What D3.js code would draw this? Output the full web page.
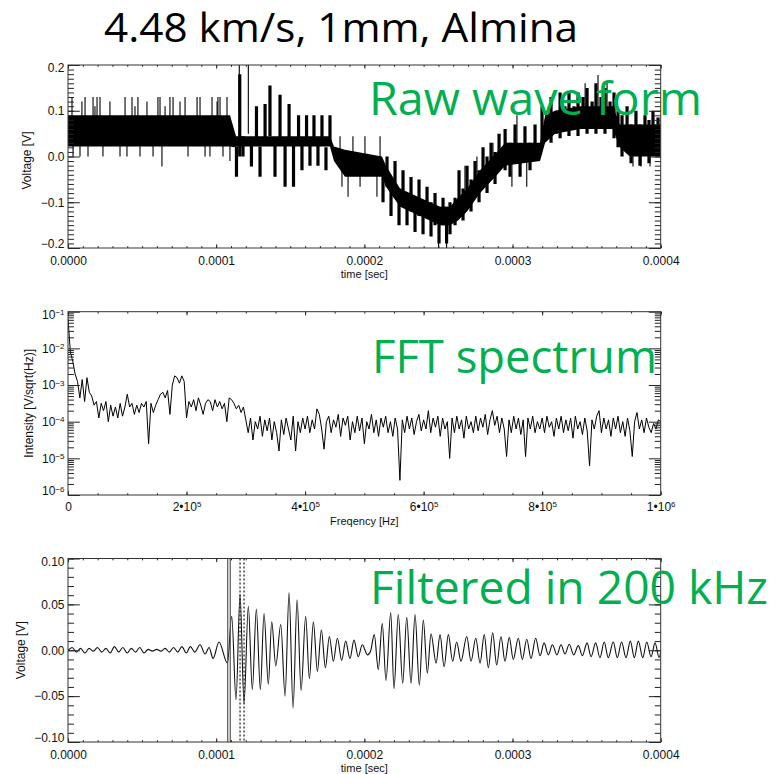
<!DOCTYPE html>
<html>
<head>
<meta charset="utf-8">
<script src="https://cdn.jsdelivr.net/npm/d3@7"></script>
<style>body{margin:0;background:#fff}</style>
</head>
<body>
<div id="chart"></div>
<script>
// ---------- data (times in microseconds) ----------
var timeTicks = [0, 0.0001, 0.0002, 0.0003, 0.0004];
var rawVoltTicks = [-0.2, -0.1, 0, 0.1, 0.2];
var filtVoltTicks = [-0.1, -0.05, 0, 0.05, 0.1];
var freqTicks = [0, 2e5, 4e5, 6e5, 8e5, 1e6];
var intensityTicks = [1e-6, 1e-5, 1e-4, 1e-3, 1e-2, 1e-1];

// raw wave form: core band envelope
var rawBandT  = [0, 109.3, 112.0, 113.4, 176.8, 179.5, 186.9, 211.9, 214.6, 224.1, 237.6, 251.1, 257.8, 263.2, 269.3, 278.1, 289.6, 295.0, 318.6, 322.0, 328.7, 345.6, 367.8, 372.3, 379.1, 400];
var rawBandLo = [0.022, 0.022, 0.020, 0.022, 0.022, -0.010, -0.044, -0.044, -0.066, -0.110, -0.130, -0.150, -0.150, -0.140, -0.120, -0.080, -0.040, -0.020, -0.010, 0.030, 0.050, 0.060, 0.060, 0.020, 0.000, 0.000];
var rawBandHi = [0.090, 0.090, 0.060, 0.044, 0.044, 0.022, 0.015, 0.000, -0.020, -0.070, -0.090, -0.110, -0.110, -0.090, -0.070, -0.030, 0.010, 0.030, 0.030, 0.090, 0.100, 0.110, 0.110, 0.070, 0.070, 0.070];

// raw wave form: thick oscillation bars
var rawBarT = [113.7, 115.9, 118.1, 123.8, 127.2, 129.6, 133.0, 136.3, 139.7, 143.1, 146.5, 149.2, 152.2, 155.6, 157.9, 161.0, 163.3, 166.0, 168.7, 171.4, 174.1, 176.8,
  212.6, 215.3, 218.0, 220.7, 223.4, 226.1, 228.8, 231.5, 234.2, 236.9, 239.6, 242.3, 245.0, 247.7, 250.4, 253.1, 255.5, 257.8,
  261.2, 263.9, 266.6, 269.3, 272.0, 274.7, 277.4, 280.1, 282.8, 285.5, 288.2, 290.9,
  295.0, 298.3, 301.7, 305.1, 308.4, 311.8, 315.2,
  319.9, 323.3, 326.0, 329.4, 332.1, 335.4, 338.1, 341.5, 344.2, 347.6, 350.3, 353.7, 356.3, 359.7, 362.4, 365.8, 368.5,
  371.2, 373.9, 377.3, 380.0, 383.3, 386.0, 389.4, 392.1, 394.8, 398.2];
var rawBarLo = [-0.044, 0.0, 0.0, -0.022, 0.03, -0.044, 0.03, 0.044, -0.044, 0.03, -0.066, 0.03, -0.066, 0.03, -0.03, 0.03, -0.02, 0.03, -0.02, 0.03, -0.03, 0.03,
  -0.10, -0.066, -0.13, -0.09, -0.15, -0.11, -0.15, -0.12, -0.165, -0.13, -0.17, -0.13, -0.175, -0.15, -0.19, -0.15, -0.19, -0.17,
  -0.15, -0.10, -0.14, -0.09, -0.12, -0.07, -0.10, -0.05, -0.08, -0.03, -0.06, -0.02,
  -0.03, -0.044, 0.0, -0.044, 0.0, -0.03, 0.01,
  0.02, 0.04, 0.03, 0.05, 0.04, 0.06, 0.045, 0.06, 0.045, 0.06, 0.05, 0.07, 0.05, 0.06, 0.05, 0.06, 0.04,
  0.02, 0.0, 0.02, -0.015, 0.02, -0.02, 0.02, -0.015, 0.01, 0.0];
var rawBarHi = [0.022, 0.18, 0.044, 0.03, 0.11, 0.022, 0.115, 0.155, 0.04, 0.135, 0.04, 0.115, 0.035, 0.09, 0.03, 0.09, 0.03, 0.09, 0.03, 0.09, 0.02, 0.09,
  -0.02, 0.0, -0.05, -0.01, -0.07, -0.03, -0.08, -0.045, -0.09, -0.05, -0.10, -0.066, -0.10, -0.08, -0.11, -0.09, -0.11, -0.10,
  -0.09, -0.03, -0.07, -0.02, -0.05, -0.01, -0.03, 0.02, 0.0, 0.03, 0.01, 0.05,
  0.06, 0.03, 0.07, 0.02, 0.066, 0.03, 0.07,
  0.11, 0.09, 0.13, 0.10, 0.14, 0.11, 0.14, 0.11, 0.14, 0.13, 0.15, 0.12, 0.16, 0.13, 0.15, 0.12, 0.14,
  0.10, 0.09, 0.11, 0.07, 0.10, 0.07, 0.09, 0.08, 0.10, 0.085];

// raw wave form: thin spikes
var rawSpikeT = [2.7, 9.4, 11.5, 16.9, 18.2, 19.6, 21.6, 28.3, 38.5, 43.2, 45.2, 47.2, 53.3, 60.7, 62.1, 65.5, 68.8, 70.9, 75.6, 79.0, 87.1, 89.1, 97.2, 100.6, 101.2, 102.6, 107.3,
  3.4, 8.1, 13.5, 23.6, 35.1, 39.8, 48.6, 57.4, 63.4, 81.0, 92.5, 95.8, 104.6, 109.3,
  115.6, 121.7,
  184.9, 189.0, 197.1, 208.5, 183.6, 192.3, 200.4, 210.6,
  250.1, 255.5,
  267.9, 276.0, 286.8, 299.6, 303.0, 309.6,
  349.0, 357.7, 363.8,
  381.3, 386.7, 392.8];
var rawSpikeLo = [0.06, 0.06, 0.06, 0.06, 0.06, 0.06, 0.06, 0.06, 0.06, 0.06, 0.06, 0.06, 0.06, 0.06, 0.06, 0.06, 0.06, 0.06, 0.06, 0.06, 0.06, 0.06, 0.06, 0.06, 0.06, 0.06, 0.06,
  0.0, 0.0, 0.0, 0.0, 0.0, 0.0, 0.0, 0.0, -0.022, 0.0, 0.0, 0.0, 0.0, -0.01,
  0.1, 0.05,
  -0.066, -0.088, -0.066, -0.088, -0.02, -0.02, -0.02, -0.02,
  -0.2, -0.21,
  -0.10, -0.06, -0.04, -0.066, 0.0, -0.066,
  0.1, 0.1, 0.1,
  -0.022, -0.022, -0.022];
var rawSpikeHi = [0.13, 0.12, 0.13, 0.13, 0.11, 0.13, 0.13, 0.12, 0.13, 0.13, 0.11, 0.13, 0.12, 0.13, 0.13, 0.11, 0.13, 0.13, 0.12, 0.13, 0.13, 0.13, 0.13, 0.12, 0.13, 0.13, 0.13,
  0.04, 0.04, 0.04, 0.04, 0.04, 0.04, 0.04, 0.04, 0.04, 0.04, 0.04, 0.04, 0.04, 0.04,
  0.21, 0.21,
  -0.02, -0.02, -0.02, -0.02, 0.044, 0.044, 0.044, 0.044,
  -0.15, -0.15,
  -0.02, 0.0, 0.03, 0.0, 0.09, 0.0,
  0.16, 0.178, 0.165,
  0.03, 0.03, 0.03];

// FFT spectrum: log10 intensity every 4 kHz from 0 to 1 MHz
var fftStep = 4000;
var fftLog = [
  -1.2, -2.1, -2.35, -2.7, -2.9, -3.35, -2.85, -3.45, -2.8, -3.2,
  -3.3, -3.55, -3.45, -3.9, -3.5, -3.7, -3.45, -4.0, -3.55, -3.85,
  -3.6, -3.9, -3.5, -3.85, -3.6, -3.25, -3.6, -3.5, -3.8, -3.55,
  -3.75, -3.5, -3.6, -3.45, -4.6, -3.5, -3.75, -3.55, -3.4, -3.25,
  -3.2, -3.35, -3.15, -3.8, -3.0, -2.75, -2.8, -2.95, -2.75, -2.9,
  -3.9, -3.45, -3.6, -3.4, -3.7, -3.35, -3.55, -3.8, -3.5, -3.4,
  -3.45, -3.7, -3.4, -3.6, -3.45, -3.65, -3.5, -4.0, -3.35, -3.4,
  -3.5, -3.65, -3.55, -3.75, -3.6, -3.95, -4.3, -3.9, -4.5, -4.0,
  -4.2, -3.85, -4.4, -3.95, -4.25, -3.9, -4.5, -4.0, -4.3, -4.8,
  -3.95, -4.35, -3.9, -4.2, -4.5, -3.85, -4.8, -4.0, -4.3, -3.9,
  -4.2, -3.85, -4.3, -3.95, -4.2, -3.65, -3.8, -4.2, -4.75, -4.0,
  -3.85, -4.3, -3.95, -4.15, -3.8, -4.4, -3.9, -4.1, -3.85, -4.5,
  -4.0, -4.3, -3.85, -4.25, -3.9, -4.6, -4.0, -4.2, -3.8, -4.3,
  -3.95, -4.4, -3.9, -4.15, -3.85, -4.3, -4.0, -4.4, -3.9, -4.2,
  -5.6, -3.95, -4.3, -3.85, -4.2, -3.9, -4.35, -4.0, -3.8, -4.25,
  -3.95, -4.2, -3.7, -4.3, -3.9, -4.15, -3.85, -4.4, -3.9, -4.2,
  -4.0, -5.0, -3.9, -4.3, -3.85, -4.2, -3.95, -4.45, -3.85, -4.2,
  -4.0, -4.3, -3.85, -4.25, -3.9, -4.15, -3.8, -4.35, -3.95, -3.7,
  -4.1, -3.85, -4.3, -3.9, -4.2, -4.95, -3.95, -4.3, -3.85, -4.2,
  -3.9, -4.35, -3.95, -4.95, -3.9, -4.2, -3.85, -4.3, -4.0, -4.2,
  -3.9, -4.3, -3.85, -4.15, -4.0, -4.4, -3.9, -4.2, -3.85, -4.3,
  -3.95, -4.25, -3.9, -4.45, -3.85, -4.2, -4.0, -4.35, -3.9, -4.25,
  -5.2, -3.95, -4.2, -3.85, -3.7, -4.3, -3.9, -4.2, -3.95, -4.4,
  -3.9, -4.2, -3.85, -4.3, -4.0, -4.4, -3.9, -4.25, -4.95, -4.0,
  -3.75, -4.2, -3.95, -4.3, -3.9, -4.15, -4.3, -4.05, -4.2, -3.95,
  -4.0];

// filtered signal: successive peaks and troughs
var filtT = [0, 2.8, 5.7, 8.5, 11.4, 14.2, 17.1, 19.9, 22.8, 25.6, 28.5, 31.3, 34.2, 37.0, 39.9, 42.7, 45.6, 48.4, 51.3, 54.1, 57.0, 59.8, 62.7, 65.5, 68.4, 71.2, 74.1, 76.9, 79.8, 82.6, 85.5,
  89.1, 92.5, 95.2, 97.9, 101.9, 107.6, 110.5, 113.4, 116.1, 118.8, 121.7, 124.4, 127.1, 129.8, 132.3, 135.2, 137.5, 140.2, 143.6, 146.5,
  149.2, 151.9, 154.6, 157.3, 160.4, 162.9, 165.6, 168.3, 171.0, 173.7, 176.4, 179.1, 181.8, 184.7, 187.4, 190.3, 193.0, 195.9, 198.6, 202.1,
  204.2, 206.7, 209.4, 212.1, 214.6, 217.8, 220.0, 222.9, 225.9, 228.6, 231.5, 234.2, 237.1, 239.8, 242.5, 245.0, 248.4, 251.1, 253.8, 256.7,
  259.6, 262.3, 265.2, 269.1, 272.0, 275.2, 278.1, 280.9, 283.7, 286.6, 289.3, 292.2, 294.9, 297.8, 300.5, 303.9, 306.6, 309.6, 312.5, 315.6,
  318.6, 321.3, 324.2, 326.9, 330.0, 332.7, 335.4, 338.3, 341.3, 344.4, 347.1, 350.3, 353.0, 356.1, 359.0, 361.9, 364.6, 368.0, 370.7, 373.6,
  376.6, 379.5, 382.2, 384.9, 387.9, 390.6, 393.5, 396.2, 398.9, 400.0];
var filtV = [0, 0.003, -0.002, 0.002, -0.003, 0.002, -0.001, 0.003, -0.002, 0.002, -0.003, 0.004, -0.002, 0.003, -0.003, 0.002, -0.002, 0.003, -0.003, 0.001, -0.001, 0.001, -0.001, 0.002, -0.002, 0.003, -0.002, 0.004, -0.003, 0.004, -0.002,
  0.006, -0.004, 0.003, -0.009, 0.009, -0.014, 0.037, -0.054, 0.061, -0.058, 0.048, -0.043, 0.045, -0.043, 0.040, -0.037, 0.031, -0.017, 0.028, -0.050,
  0.063, -0.063, 0.055, -0.044, 0.037, -0.031, 0.031, -0.023, 0.022, -0.019, 0.015, -0.012, 0.013, -0.011, 0.010, -0.009, 0.011, -0.007, 0.006, -0.005,
  -0.001, 0.017, -0.021, 0.029, -0.033, 0.041, -0.042, 0.039, -0.036, 0.036, -0.036, 0.039, -0.038, 0.033, -0.025, 0.018, -0.014, 0.017, -0.018, 0.017,
  -0.012, 0.009, -0.012, 0.015, -0.012, 0.013, -0.014, 0.017, -0.019, 0.019, -0.016, 0.015, -0.012, 0.014, -0.010, 0.013, -0.010, 0.012, -0.009, 0.013,
  -0.006, 0.008, -0.005, 0.006, -0.005, 0.006, -0.004, 0.0065, -0.005, 0.005, -0.006, 0.008, -0.007, 0.008, -0.008, 0.009, -0.008, 0.009, -0.008, 0.009,
  -0.008, 0.010, -0.008, 0.010, -0.008, 0.009, -0.007, 0.008, -0.008, -0.002];

// picked arrival markers on the filtered signal
var markSolidT = [107.8, 109.5];
var markDottedT = [116.1, 118.8];

// ---------- layout ----------
var W = 776, H = 774;
var left = 68, right = 660.7;
var tickFont = "'Liberation Sans', Arial, sans-serif";
var labelFont = "'Open Sans', 'Noto Sans', sans-serif";

var svg = d3.select("#chart").append("svg")
  .attr("width", W)
  .attr("height", H);

var x = d3.scaleLinear().domain([0, 0.0004]).range([left, right]);
var xf = d3.scaleLinear().domain([0, 1e6]).range([left, right]);

function range(a, b, s) {
  return d3.range(Math.round((b - a) / s) + 1).map(function(i) { return +(a + i * s).toFixed(8); });
}

// IDL style box: ticks inward on all four sides
function box(top, bottom, xs, ys, o) {
  var g = svg.append("g").attr("color", "#222");
  var xl = (bottom - top) * 0.02, yl = (right - left) * 0.02;

  function tidy(sel) {
    sel.select(".domain").remove();
    sel.attr("font-family", tickFont).attr("font-size", 12);
    sel.selectAll(".tick text").attr("fill", "#111");
  }

  g.append("g").attr("transform", "translate(0," + bottom + ")")
    .call(d3.axisBottom(xs).tickValues(o.xMinor).tickSize(-xl / 2).tickFormat(""))
    .call(tidy);
  g.append("g").attr("transform", "translate(0," + top + ")")
    .call(d3.axisTop(xs).tickValues(o.xMinor).tickSize(-xl / 2).tickFormat(""))
    .call(tidy);
  g.append("g").attr("transform", "translate(" + left + ",0)")
    .call(d3.axisLeft(ys).tickValues(o.yMinor).tickSize(-yl / 2).tickFormat(""))
    .call(tidy);
  g.append("g").attr("transform", "translate(" + right + ",0)")
    .call(d3.axisRight(ys).tickValues(o.yMinor).tickSize(-yl / 2).tickFormat(""))
    .call(tidy);

  var xa = g.append("g").attr("transform", "translate(0," + bottom + ")")
    .call(d3.axisBottom(xs).tickValues(o.xMajor).tickSize(-xl).tickPadding(o.xPad).tickFormat(o.xFmt))
    .call(tidy);
  g.append("g").attr("transform", "translate(0," + top + ")")
    .call(d3.axisTop(xs).tickValues(o.xMajor).tickSize(-xl).tickFormat(""))
    .call(tidy);
  var ya = g.append("g").attr("transform", "translate(" + left + ",0)")
    .call(d3.axisLeft(ys).tickValues(o.yMajor).tickSize(-yl).tickPadding(3.5).tickFormat(o.yFmt))
    .call(tidy);
  g.append("g").attr("transform", "translate(" + right + ",0)")
    .call(d3.axisRight(ys).tickValues(o.yMajor).tickSize(-yl).tickFormat(""))
    .call(tidy);

  // end labels sit a little inside the box
  ya.selectAll(".tick text").attr("transform", function(d) {
    var py = ys(d);
    if (Math.abs(py - top) < 1) return "translate(0,3)";
    if (Math.abs(py - bottom) < 1) return "translate(0,-4)";
    return null;
  });

  g.append("rect")
    .attr("x", left).attr("y", top)
    .attr("width", right - left).attr("height", bottom - top)
    .attr("fill", "none").attr("stroke", "#333").attr("stroke-width", 1);

  g.append("text")
    .attr("x", (left + right) / 2).attr("y", o.xTitleY)
    .attr("text-anchor", "middle")
    .attr("font-family", tickFont).attr("font-size", 11).attr("fill", "#111")
    .text(o.xTitle);
  g.append("text")
    .attr("transform", "translate(" + o.yTitleX + "," + ((top + bottom) / 2 + o.yTitleDy) + ") rotate(-90)")
    .attr("text-anchor", "middle")
    .attr("font-family", tickFont).attr("font-size", 12).attr("fill", "#111")
    .text(o.yTitle);

  return {x: xa, y: ya};
}

function clip(id, top, bottom) {
  svg.append("clipPath").attr("id", id)
    .append("rect").attr("x", left).attr("y", top)
    .attr("width", right - left).attr("height", bottom - top);
  return svg.append("g").attr("clip-path", "url(#" + id + ")");
}

function bigLabel(txt, x0, y0, len, size, color) {
  svg.append("text")
    .attr("x", x0).attr("y", y0)
    .attr("font-family", labelFont).attr("font-size", size)
    .attr("fill", color)
    .attr("textLength", len).attr("lengthAdjust", "spacingAndGlyphs")
    .text(txt);
}

var us = function(t) { return t * 1e-6; };

// ---------- panel 1: raw wave form ----------
var p1 = {top: 65, bottom: 248};
var y1 = d3.scaleLinear().domain([-0.2, 0.2]).range([p1.bottom, p1.top]);
var g1 = clip("c1", p1.top, p1.bottom);

var band = rawBandT.map(function(t, i) { return {t: t, lo: rawBandLo[i], hi: rawBandHi[i]}; });
g1.append("path")
  .datum(band)
  .attr("fill", "#000")
  .attr("d", d3.area()
    .x(function(d) { return x(us(d.t)); })
    .y0(function(d) { return y1(d.lo); })
    .y1(function(d) { return y1(d.hi); }));

g1.selectAll(".bar")
  .data(rawBarT.map(function(t, i) { return {t: t, lo: rawBarLo[i], hi: rawBarHi[i]}; }))
  .enter().append("line")
  .attr("x1", function(d) { return x(us(d.t)); })
  .attr("x2", function(d) { return x(us(d.t)); })
  .attr("y1", function(d) { return y1(d.lo); })
  .attr("y2", function(d) { return y1(d.hi); })
  .attr("stroke", "#000").attr("stroke-width", 3.2);

g1.selectAll(".spike")
  .data(rawSpikeT.map(function(t, i) { return {t: t, lo: rawSpikeLo[i], hi: rawSpikeHi[i]}; }))
  .enter().append("line")
  .attr("x1", function(d) { return x(us(d.t)); })
  .attr("x2", function(d) { return x(us(d.t)); })
  .attr("y1", function(d) { return y1(d.lo); })
  .attr("y2", function(d) { return y1(d.hi); })
  .attr("stroke", "#000").attr("stroke-width", 1.1);

box(p1.top, p1.bottom, x, y1, {
  xMajor: timeTicks, xMinor: range(0, 0.0004, 0.00001),
  yMajor: rawVoltTicks, yMinor: range(-0.2, 0.2, 0.01),
  xFmt: d3.format(".4f"), yFmt: d3.format(".1f"),
  xPad: 8, xTitle: "time [sec]", xTitleY: 278,
  yTitle: "Voltage [V]", yTitleX: 31, yTitleDy: 4
});

// ---------- panel 2: FFT spectrum ----------
var p2 = {top: 311.7, bottom: 495};
var y2 = d3.scaleLog().domain([1e-6, 1e-1]).range([p2.bottom, p2.top]);
var g2 = clip("c2", p2.top, p2.bottom);

g2.append("path")
  .datum(fftLog.map(function(v, i) { return {f: i * fftStep, v: Math.pow(10, v)}; }))
  .attr("fill", "none").attr("stroke", "#000").attr("stroke-width", 1)
  .attr("stroke-linejoin", "round")
  .attr("d", d3.line()
    .x(function(d) { return xf(d.f); })
    .y(function(d) { return y2(d.v); }));

var logMinor = [];
intensityTicks.slice(0, -1).forEach(function(p) {
  for (var m = 2; m <= 9; m++) logMinor.push(p * m);
});

var ax2 = box(p2.top, p2.bottom, xf, y2, {
  xMajor: freqTicks, xMinor: range(0, 1e6, 5e4),
  yMajor: intensityTicks, yMinor: logMinor,
  xFmt: function() { return ""; }, yFmt: function() { return ""; },
  xPad: 7.5, xTitle: "Freqency [Hz]", xTitleY: 525,
  yTitle: "Intensity [V/sqrt(Hz)]", yTitleX: 33, yTitleDy: 0
});

ax2.y.selectAll(".tick text").each(function(d) {
  var t = d3.select(this);
  t.append("tspan").text("10");
  t.append("tspan").attr("dy", "-0.45em").attr("font-size", 8)
    .text(d3.format("d")(Math.round(Math.log10(d))));
});
ax2.x.selectAll(".tick text").each(function(d) {
  var t = d3.select(this);
  if (d === 0) { t.text("0"); return; }
  var e = Math.floor(Math.log10(d) + 1e-9);
  t.append("tspan").text(Math.round(d / Math.pow(10, e)) + "\u202210");
  t.append("tspan").attr("dy", "-0.45em").attr("font-size", 8).text(e);
});

// ---------- panel 3: filtered signal ----------
var p3 = {top: 558.5, bottom: 742};
var y3 = d3.scaleLinear().domain([-0.1, 0.1]).range([p3.bottom, p3.top]);
var g3 = clip("c3", p3.top, p3.bottom);

g3.append("path")
  .datum(filtT.map(function(t, i) { return {t: t, v: filtV[i]}; }))
  .attr("fill", "none").attr("stroke", "#111").attr("stroke-width", 1.1)
  .attr("d", d3.line().curve(d3.curveMonotoneX)
    .x(function(d) { return x(us(d.t)); })
    .y(function(d) { return y3(d.v); }));

g3.selectAll(".solid").data(markSolidT).enter().append("line")
  .attr("x1", function(d) { return x(us(d)); }).attr("x2", function(d) { return x(us(d)); })
  .attr("y1", p3.top).attr("y2", p3.bottom)
  .attr("stroke", "#555").attr("stroke-width", 1.2);
g3.selectAll(".dotted").data(markDottedT).enter().append("line")
  .attr("x1", function(d) { return x(us(d)); }).attr("x2", function(d) { return x(us(d)); })
  .attr("y1", p3.top).attr("y2", p3.bottom)
  .attr("stroke", "#000").attr("stroke-width", 1.1).attr("stroke-dasharray", "2,2");

box(p3.top, p3.bottom, x, y3, {
  xMajor: timeTicks, xMinor: range(0, 0.0004, 0.00001),
  yMajor: filtVoltTicks, yMinor: range(-0.1, 0.1, 0.01),
  xFmt: d3.format(".4f"), yFmt: d3.format(".2f"),
  xPad: 8, xTitle: "time [sec]", xTitleY: 772,
  yTitle: "Voltage [V]", yTitleX: 25, yTitleDy: 0
});

// ---------- titles ----------
bigLabel("4.48 km/s, 1mm, Almina", 104, 42, 474, 40, "#000");
bigLabel("Raw wave form", 369, 115, 333, 46, "#00B050");
bigLabel("FFT spectrum", 372, 373, 285, 46, "#00B050");
bigLabel("Filtered in 200 kHz", 370, 604, 398, 46, "#00B050");
</script>
</body>
</html>
